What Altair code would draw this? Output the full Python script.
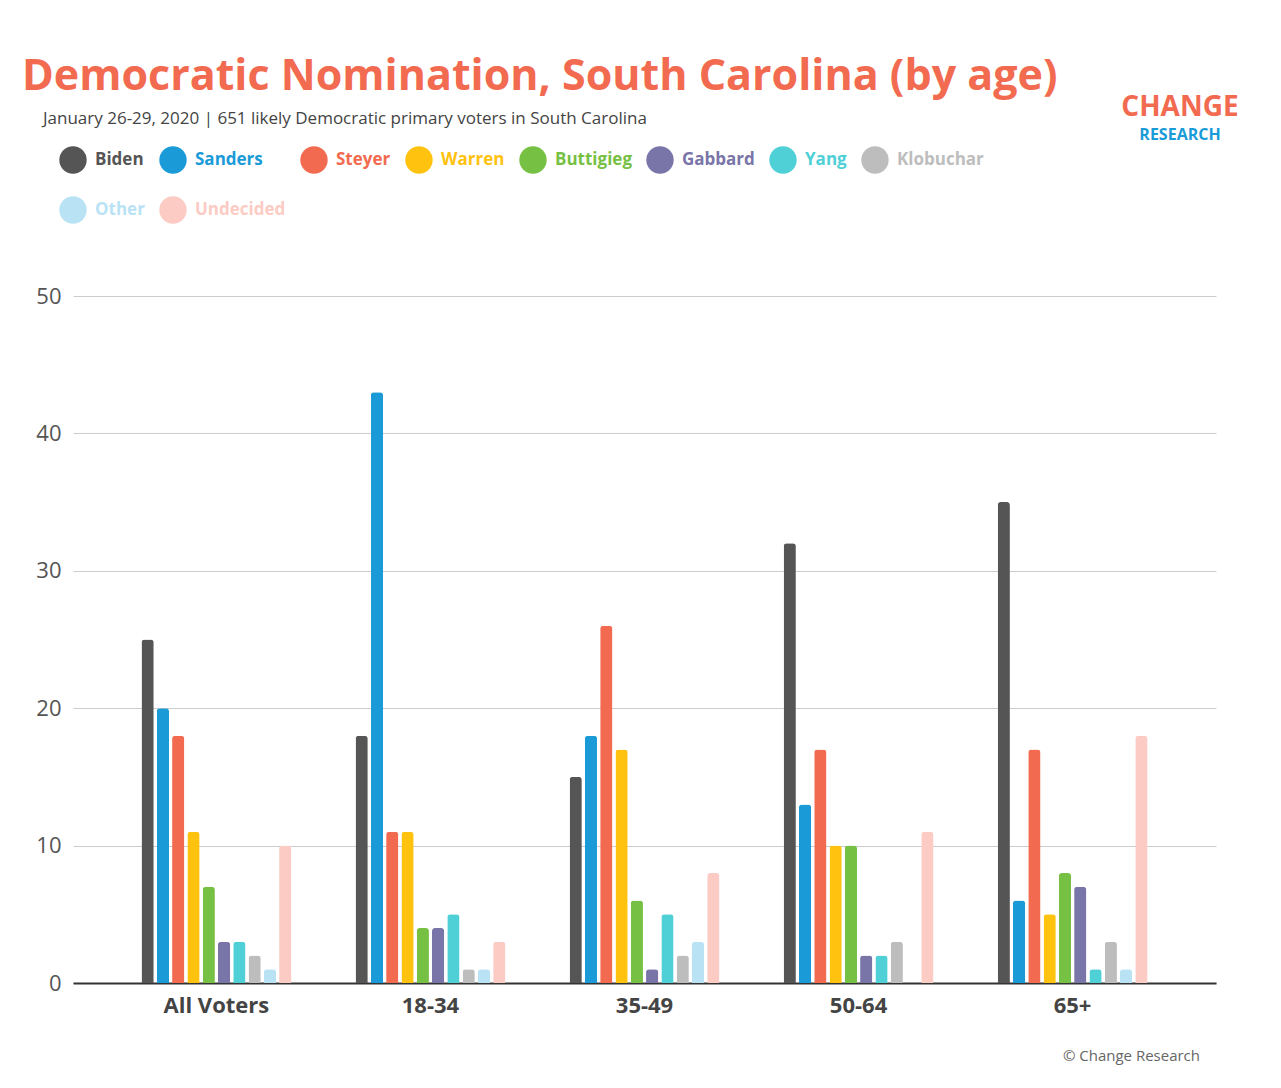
import altair as alt
import pandas as pd

groups = ["All Voters", "18-34", "35-49", "50-64", "65+"]
candidates = ["Biden", "Sanders", "Steyer", "Warren", "Buttigieg", "Gabbard",
              "Yang", "Klobuchar", "Other", "Undecided"]
colors = ["#555555", "#1a9bd7", "#f26b50", "#ffc20e", "#76c043", "#7a75a8",
          "#4fcfd6", "#bdbdbd", "#b9e3f5", "#fccbc4"]
values = {
    "All Voters": [25, 20, 18, 11, 7, 3, 3, 2, 1, 10],
    "18-34": [18, 43, 11, 11, 4, 4, 5, 1, 1, 3],
    "35-49": [15, 18, 26, 17, 6, 1, 5, 2, 3, 8],
    "50-64": [32, 13, 17, 10, 10, 2, 2, 3, 0, 11],
    "65+": [35, 6, 17, 5, 8, 7, 1, 3, 1, 18],
}

rows = [{"group": g, "candidate": c, "pct": v}
        for g in groups for c, v in zip(candidates, values[g])]
df = pd.DataFrame(rows)

font = "Open Sans"

bars = alt.Chart(df).mark_bar(cornerRadiusTopLeft=3, cornerRadiusTopRight=3).encode(
    x=alt.X("group:N", sort=groups, title=None,
            scale=alt.Scale(paddingInner=0.3, paddingOuter=0.32),
            axis=alt.Axis(labelAngle=0, labelFontSize=22, labelFontWeight="bold",
                          labelColor="#444", labelPadding=12, ticks=False,
                          domainColor="#333", domainWidth=2, labelFont=font)),
    xOffset=alt.XOffset("candidate:N", sort=candidates,
                        scale=alt.Scale(paddingInner=0.2)),
    y=alt.Y("pct:Q", title=None, scale=alt.Scale(domain=[0, 50]),
            axis=alt.Axis(values=[0, 10, 20, 30, 40, 50], labelFontSize=22,
                          labelColor="#555", gridColor="#cccccc", domain=False,
                          ticks=False, labelPadding=12, labelFont=font)),
    color=alt.Color("candidate:N", sort=candidates,
                    scale=alt.Scale(domain=candidates, range=colors),
                    legend=alt.Legend(
                        title=None, orient="none", legendX=-14, legendY=-150,
                        columns=8, direction="horizontal", gridAlign="none",
                        symbolType="circle", symbolSize=750,
                        symbolStrokeWidth=0, labelFontSize=17,
                        labelFontWeight="bold", labelFont=font, rowPadding=22,
                        columnPadding=14, labelOffset=8,
                        labelColor=alt.ExprRef("scale('color', datum.value)"))),
)

texts = pd.DataFrame({
    "t": ["Democratic Nomination, South Carolina (by age)",
          "January 26-29, 2020 | 651 likely Democratic primary voters in South Carolina",
          "CHANGE", "RESEARCH", "© Change Research"],
})

def label(i, x, y, size, color, weight="normal", align="left"):
    return alt.Chart(texts.iloc[[i]]).mark_text(
        align=align, baseline="alphabetic", fontSize=size, color=color,
        fontWeight=weight, font=font
    ).encode(text="t:N", x=alt.value(x), y=alt.value(y))

title = label(0, -51, -206, 43, "#f26b50", "bold")
sub = label(1, -30, -172, 17, "#444")
logo1 = label(2, 1107, -180, 28, "#f26b50", "bold", "center")
logo2 = label(3, 1107, -156, 16, "#1a9bd7", "bold", "center")
foot = label(4, 1127, 84 + 687 - 6, 15, "#666", "normal", "right")

chart = alt.layer(bars, title, sub, logo1, logo2, foot).properties(
    width=1143, height=687,
    autosize=alt.AutoSizeParams(type="none"),
    padding={"left": 65, "top": 288, "right": 50, "bottom": 90},
).configure_view(stroke=None)

chart.save("out.html", embed_options={"renderer": "svg", "actions": False})
